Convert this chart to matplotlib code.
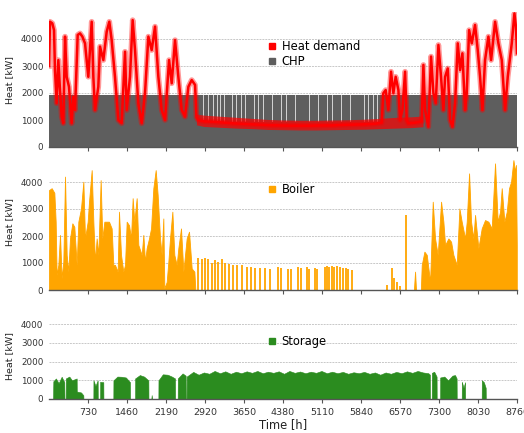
"""Hourly heat supply over one year: demand vs CHP, boiler and storage."""
import matplotlib
matplotlib.use("Agg")
import matplotlib.pyplot as plt
from matplotlib.lines import Line2D

plt.rcParams.update({
    "font.family": "DejaVu Sans",
    "font.size": 7,
})

# ---- heat demand (knots) ----
DEMAND_HOURS = [0, 19, 62, 94, 112, 143, 175, 206, 237, 268, 300, 331, 374, 424, 455, 487,
                537, 580, 624, 674, 705, 736, 799, 830, 861, 923, 955, 1017, 1080, 1129,
                1173, 1235, 1298, 1360, 1423, 1454, 1516, 1566, 1610, 1672, 1735, 1797,
                1860, 1922, 1985, 2047, 2109, 2172, 2247, 2297, 2359, 2421, 2484, 2546,
                2609, 2671, 2734, 2760, 2790, 2900, 3100, 3300, 3500, 3700, 3900, 4100,
                4300, 4500, 4700, 4900, 5100, 5300, 5500, 5700, 5900, 6100, 6227, 6258,
                6302, 6352, 6402, 6446, 6489, 6540, 6571, 6615, 6665, 6696, 6727, 6852,
                6977, 7008, 7039, 7101, 7151, 7195, 7239, 7289, 7338, 7382, 7414, 7464,
                7507, 7551, 7601, 7651, 7695, 7738, 7788, 7819, 7863, 7913, 7975, 8025,
                8069, 8112, 8162, 8225, 8275, 8350, 8412, 8475, 8537, 8587, 8662, 8712,
                8740, 8760]
DEMAND_KW = [3000, 4640, 4580, 4330, 2850, 1620, 3220, 2110, 1120, 880, 4090, 2600, 2230, 880,
             1860, 1370, 4150, 4210, 4090, 3840, 3220, 2600, 4640, 2600, 1370, 2230, 3720,
             3220, 4270, 4640, 3960, 2600, 1000, 880, 3530, 1370, 2600, 4700, 3590, 1620,
             880, 1990, 4090, 3590, 4460, 2600, 1370, 1000, 3220, 2360, 3960, 2600, 1370,
             1120, 2230, 2480, 2300, 1100, 1000, 950, 930, 900, 870, 850, 830, 810, 800,
             790, 790, 790, 800, 800, 820, 830, 840, 860, 900, 1990, 2110, 1370, 2790,
             1990, 2600, 2110, 1000, 1370, 2790, 1000, 880, 900, 950, 3040, 1370, 750,
             3350, 1990, 1620, 3780, 2600, 1370, 2600, 2910, 1000, 750, 1620, 3840, 2850,
             3470, 1370, 1990, 4330, 3840, 4520, 3590, 2600, 1370, 3220, 4090, 3220, 4640,
             3840, 3220, 1370, 2600, 3840, 4950, 4460, 3470]

# summer band of the daily swing in demand
BAND_HOURS = [2760, 2900, 3200, 3500, 3800, 4100, 4400, 4700, 5000, 5300, 5600, 5900,
              6200, 6500, 6800, 7000]
BAND_LO = [820, 760, 730, 700, 680, 650, 640, 630, 630, 640, 650, 660, 680, 700, 720, 750]
BAND_HI = [1220, 1180, 1140, 1100, 1060, 1020, 1000, 990, 990, 1000, 1010, 1030, 1060,
           1100, 1120, 1150]

# ---- CHP ----
CHP_HOURS = [0, 8760]
CHP_KW = [1920, 1920]
CHP_OFF_HOURS = [2810, 2895, 2990, 3080, 3150, 3215, 3280, 3370, 3440, 3510, 3600, 3680,
                 3760, 3850, 3925, 4010, 4100, 4190, 4270, 4355, 4440, 4530, 4615, 4700,
                 4790, 4870, 4960, 5045, 5130, 5215, 5300, 5390, 5475, 5560, 5645, 5730,
                 5820, 5905, 5985, 6070, 6150]

# ---- boiler ----
BOILER_HOURS = [0, 50, 100, 125, 143, 175, 206, 237, 268, 300, 331, 362, 393, 437, 474,
                518, 549, 599, 643, 674, 724, 749, 799, 830, 861, 892, 923, 967, 998, 1036,
                1080, 1123, 1173, 1204, 1235, 1285, 1310, 1348, 1391, 1423, 1454, 1498,
                1535, 1566, 1597, 1641, 1672, 1735, 1766, 1797, 1828, 1872, 1910, 1953,
                1997, 2034, 2078, 2109, 2140, 2159, 2203, 2234, 2265, 2309, 2346, 2390,
                2421, 2471, 2515, 2546, 2577, 2621, 2671, 2721, 2740,
                6830, 6852, 6870, 6960, 6977, 7027, 7071, 7133, 7183, 7226, 7276, 7339,
                7382, 7414, 7476, 7526, 7569, 7632, 7682, 7725, 7788, 7819, 7863, 7900,
                7944, 7975, 8037, 8099, 8162, 8224, 8287, 8349, 8399, 8443, 8474, 8524,
                8568, 8611, 8649, 8693, 8724, 8740, 8756]
BOILER_KW = [3700, 3770, 3600, 2530, 560, 930, 2040, 430, 1050, 4200, 1300, 680, 1910,
             2470, 2340, 930, 2530, 3020, 4010, 1910, 2530, 3270, 4440, 2530, 1050, 1910,
             1300, 4070, 1910, 2530, 2530, 2530, 2280, 930, 930, 680, 2900, 1300, 680, 930,
             2530, 2400, 1910, 3400, 2530, 3400, 1670, 1300, 2040, 1050, 1550, 1910, 2280,
             3770, 4440, 3520, 1910, 1300, 2650, 60, 300, 1050, 1910, 2900, 1300, 930,
             1550, 2280, 680, 1300, 1910, 2160, 800, 680, 0,
             0, 680, 0, 0, 930, 1420, 1300, 300, 3270, 1910, 1300, 3270, 2530, 1670, 1910,
             1790, 1300, 930, 3020, 2530, 1910, 2530, 4320, 2530, 1910, 2780, 1550, 2280,
             2590, 2530, 2280, 4690, 2530, 2900, 3770, 2530, 2900, 3770, 4010, 4810, 4380,
             4630, 1670]

# single boiler peaks in the summer months
BOILER_PEAK_HOURS = [2794, 2856, 2919, 2981, 3044, 3106, 3169, 3231, 3294, 3375, 3450, 3525,
                     3606, 3700, 3775, 3856, 3950, 4043, 4137, 4293, 4337, 4480, 4524, 4667,
                     4711, 4823, 4873, 4979, 5023, 5167, 5198, 5241, 5291, 5335, 5385, 5447,
                     5497, 5560, 5603, 5666, 6321, 6415, 6465, 6508, 6571, 6677]
BOILER_PEAK_KW = [1200, 1150, 1200, 1150, 1000, 1100, 1050, 1150, 1000, 980, 930, 930, 930,
                  870, 860, 800, 800, 800, 780, 850, 800, 780, 760, 850, 800, 850, 780, 820,
                  780, 850, 880, 860, 900, 850, 880, 870, 820, 800, 780, 750, 190, 800, 430,
                  300, 150, 2780]

# ---- storage ----
STORAGE_HOURS = [0, 75, 81, 130, 180, 237, 287, 290, 312, 315, 380, 430, 518, 520, 600,
                 643, 645, 830, 832, 870, 911, 913, 955, 957, 1017, 1019, 1204, 1206, 1280,
                 1360, 1440, 1516, 1518, 1610, 1612, 1700, 1780, 1860, 1862, 1915, 1922,
                 1930, 2047, 2049, 2130, 2220, 2300, 2359, 2361, 2409, 2411, 2500, 2558,
                 2560, 2575, 2577, 2700, 2800, 2900, 3000, 3100, 3200, 3300, 3400, 3500,
                 3600, 3700, 3800, 3900, 4000, 4100, 4200, 4300, 4400, 4500, 4600, 4700,
                 4800, 4900, 5000, 5100, 5200, 5300, 5400, 5500, 5600, 5700, 5800, 5900,
                 6000, 6100, 6200, 6300, 6400, 6500, 6600, 6700, 6800, 6900, 7000, 7100,
                 7130, 7132, 7164, 7166, 7210, 7255, 7257, 7320, 7322, 7400, 7470, 7550,
                 7600, 7630, 7632, 7725, 7727, 7760, 7788, 7790, 8099, 8101, 8140, 8174,
                 8176, 8760]
STORAGE_KW = [0, 0, 950, 1100, 850, 1190, 900, 0, 0, 1100, 1200, 1000, 1100, 400, 350, 200,
              0, 0, 1000, 700, 1000, 0, 0, 920, 900, 0, 0, 1000, 1200, 1190, 1150, 900, 0, 0,
              1100, 1280, 1200, 1000, 0, 0, 210, 0, 0, 1000, 1320, 1300, 1200, 1100, 0, 0,
              1100, 1370, 1250, 0, 0, 1200, 1450, 1300, 1420, 1350, 1500, 1380, 1480, 1350,
              1460, 1380, 1480, 1400, 1500, 1380, 1460, 1400, 1480, 1350, 1500, 1400, 1470,
              1380, 1460, 1400, 1500, 1380, 1460, 1380, 1450, 1350, 1430, 1380, 1450, 1350,
              1420, 1300, 1420, 1350, 1450, 1380, 1480, 1400, 1500, 1420, 1380, 1300, 0, 0,
              1400, 1460, 1200, 0, 0, 1150, 1200, 1000, 1250, 1280, 1100, 0, 0, 920, 600,
              900, 0, 0, 1000, 900, 600, 0, 0]

X_TICKS = [730, 1460, 2190, 2920, 3650, 4380, 5110, 5840, 6570, 7300, 8030, 8760]
Y_TICKS = [0, 1000, 2000, 3000, 4000]

RED = "#ff0000"
GRAY = "#5e5e5e"
ORANGE = "#ffa500"
GREEN = "#2b8c1f"

fig = plt.figure(figsize=(5.24, 4.33), dpi=100)
left, width = 49 / 524, 468 / 524
ax1 = fig.add_axes([left, 286 / 433, width, 135 / 433])
ax2 = fig.add_axes([left, 143 / 433, width, 135 / 433])
ax3 = fig.add_axes([left, 34 / 433, width, 86 / 433])


def style_axes(ax, ymax):
    ax.set_xlim(0, 8760)
    ax.set_ylim(0, ymax)
    ax.set_xticks(X_TICKS)
    ax.set_yticks(Y_TICKS)
    for side in ("top", "right", "left"):
        ax.spines[side].set_visible(False)
    ax.spines["bottom"].set_color("#555555")
    ax.spines["bottom"].set_linewidth(1.0)
    ax.yaxis.grid(True, color="#c8c8c8", linestyle=(0, (2, 1)), linewidth=0.7)
    ax.set_axisbelow(True)
    ax.tick_params(axis="y", length=0, labelsize=6.3, colors="#333333", pad=4)
    ax.tick_params(axis="x", length=3, width=0.8, color="#555555", labelsize=6.8,
                   colors="#333333")
    ax.set_ylabel("Heat [kW]", fontsize=6.8, color="#222222", labelpad=5)


def legend(ax, items, y):
    handles = [Line2D([], [], marker="s", linestyle="none", color=c, markersize=4.5)
               for _, c in items]
    ax.legend(handles, [t for t, _ in items], loc="upper left", bbox_to_anchor=(0.455, y),
              frameon=False, fontsize=8.3, handletextpad=0.3, labelspacing=0.25,
              borderaxespad=0, handlelength=1.0)


# panel 1: heat demand and CHP
style_axes(ax1, 5000)
ax1.fill_between(CHP_HOURS, 0, CHP_KW, color=GRAY, linewidth=0, zorder=2)
ax1.bar(CHP_OFF_HOURS, 1000, bottom=920, width=14, color="#d0d0d0", linewidth=0, zorder=2)
ax1.fill_between(BAND_HOURS, BAND_LO, BAND_HI, color=RED, alpha=0.7, linewidth=0, zorder=3)
ax1.plot(DEMAND_HOURS, DEMAND_KW, color=RED, linewidth=4.0, alpha=0.4, zorder=3)
ax1.plot(DEMAND_HOURS, DEMAND_KW, color=RED, linewidth=1.8, zorder=4)
ax1.tick_params(axis="x", labelbottom=False)
legend(ax1, [("Heat demand", RED), ("CHP", GRAY)], 0.83)

# panel 2: boiler
style_axes(ax2, 5000)
ax2.fill_between(BOILER_HOURS[:75], 0, BOILER_KW[:75], color=ORANGE, linewidth=0.6,
                 edgecolor=ORANGE, zorder=2)
ax2.fill_between(BOILER_HOURS[75:], 0, BOILER_KW[75:], color=ORANGE, linewidth=0.6,
                 edgecolor=ORANGE, zorder=2)
ax2.vlines(BOILER_PEAK_HOURS, 0, BOILER_PEAK_KW, color=ORANGE, linewidth=1.3, zorder=2)
ax2.tick_params(axis="x", labelbottom=False)
legend(ax2, [("Boiler", ORANGE)], 0.83)

# panel 3: storage
style_axes(ax3, 4600)
ax3.fill_between(STORAGE_HOURS, 0, STORAGE_KW, color=GREEN, linewidth=0.4,
                 edgecolor=GREEN, zorder=2)
ax3.set_xticklabels([str(t) for t in X_TICKS])
ax3.set_xlabel("Time [h]", fontsize=8.3, color="#222222", labelpad=1)
legend(ax3, [("Storage", GREEN)], 0.80)

fig.savefig("out.png", dpi=100)
